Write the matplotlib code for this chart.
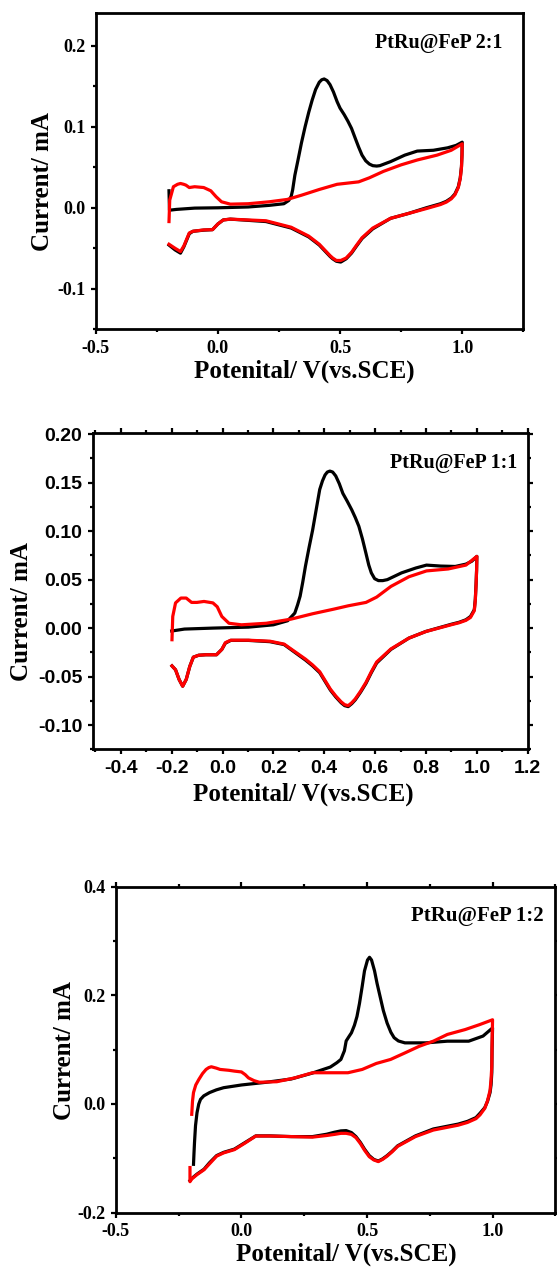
import matplotlib
matplotlib.use("Agg")
import matplotlib.pyplot as plt
from matplotlib.ticker import MultipleLocator, FormatStrFormatter

plt.rcParams['axes.unicode_minus'] = False
plt.rcParams['font.family'] = 'Liberation Serif'
plt.rcParams['font.weight'] = 'bold'

# ---- PtRu@FeP 2:1 ----
# anodic sweeps (-0.2 -> 1.0 V)
pot_21_k_fwd = [-0.2, -0.198, -0.17, -0.095, 0.0, 0.124, 0.21, 0.27, 0.29, 0.30, 0.306, 0.315, 0.328,
                0.342, 0.357, 0.372, 0.386, 0.40, 0.415, 0.425, 0.435, 0.447, 0.459, 0.473, 0.488, 0.50,
                0.517, 0.532, 0.547, 0.562, 0.576, 0.59, 0.605, 0.62, 0.634, 0.65, 0.663, 0.707, 0.765,
                0.816, 0.882, 0.94, 0.975, 1.0]
cur_21_k_fwd = [0.021, -0.003, -0.002, -0.0004, 0.0, 0.001, 0.003, 0.005, 0.009, 0.014, 0.022, 0.04,
                0.059, 0.08, 0.1, 0.118, 0.133, 0.146, 0.155, 0.158, 0.159, 0.157, 0.152, 0.143, 0.131,
                0.123, 0.115, 0.107, 0.098, 0.086, 0.075, 0.065, 0.058, 0.054, 0.052, 0.0515, 0.052,
                0.057, 0.065, 0.07, 0.071, 0.074, 0.077, 0.081]
pot_21_r_fwd = [-0.2, -0.197, -0.182, -0.165, -0.153, -0.14, -0.131, -0.117, -0.095, -0.058, -0.029,
                -0.007, 0.015, 0.051, 0.124, 0.21, 0.284, 0.343, 0.415, 0.488, 0.576, 0.62, 0.678, 0.75,
                0.816, 0.897, 0.955, 1.0]
cur_21_r_fwd = [-0.017, 0.0095, 0.026, 0.029, 0.03, 0.029, 0.028, 0.025, 0.026, 0.025, 0.021, 0.0136,
                0.0074, 0.0045, 0.005, 0.0074, 0.0103, 0.0156, 0.0226, 0.029, 0.032, 0.037, 0.045,
                0.053, 0.059, 0.065, 0.071, 0.079]
# cathodic sweeps (1.0 -> -0.2 V)
pot_21_rev = [0.999, 0.997, 0.992, 0.984, 0.97, 0.955, 0.935, 0.911, 0.853, 0.78, 0.707, 0.634, 0.59,
              0.568, 0.547, 0.525, 0.503, 0.485, 0.47, 0.459, 0.437, 0.415, 0.372, 0.3, 0.197, 0.051,
              0.022, 0.0, -0.022, -0.058, -0.102, -0.117, -0.139, -0.153, -0.175, -0.2]
cur_21_k_rev = [0.065, 0.051, 0.037, 0.026, 0.017, 0.012, 0.008, 0.005, 0.0, -0.007, -0.013, -0.026,
                -0.038, -0.047, -0.056, -0.063, -0.067, -0.066, -0.063, -0.06, -0.053, -0.046, -0.036,
                -0.025, -0.017, -0.014, -0.015, -0.02, -0.027, -0.0276, -0.029, -0.032, -0.048,
                -0.056, -0.052, -0.046]
cur_21_r_rev = [0.064, 0.05, 0.036, 0.025, 0.016, 0.011, 0.007, 0.004, -0.001, -0.007, -0.013, -0.025,
                -0.037, -0.046, -0.055, -0.062, -0.065, -0.065, -0.062, -0.059, -0.052, -0.045, -0.035,
                -0.024, -0.016, -0.014, -0.015, -0.02, -0.027, -0.0273, -0.029, -0.031, -0.047,
                -0.054, -0.05, -0.045]

# ---- PtRu@FeP 1:1 ----
pot_11_k_fwd = [-0.2, -0.15, -0.038, 0.102, 0.2, 0.256, 0.284, 0.295, 0.305, 0.315, 0.326, 0.34, 0.354,
                0.368, 0.382, 0.393, 0.403, 0.412, 0.422, 0.433, 0.445, 0.459, 0.473, 0.49, 0.508,
                0.522, 0.536, 0.55, 0.564, 0.575, 0.585, 0.598, 0.613, 0.63, 0.648, 0.704, 0.76, 0.802,
                0.858, 0.915, 0.957, 0.98, 1.0]
cur_11_k_fwd = [-0.003, -0.001, 0.0, 0.001, 0.0034, 0.0076, 0.0155, 0.024, 0.033, 0.047, 0.064, 0.083,
                0.101, 0.122, 0.143, 0.152, 0.158, 0.161, 0.162, 0.161, 0.157, 0.149, 0.139, 0.131,
                0.122, 0.114, 0.105, 0.092, 0.077, 0.065, 0.057, 0.051, 0.049, 0.049, 0.05, 0.057,
                0.062, 0.065, 0.064, 0.0636, 0.066, 0.069, 0.074]
pot_11_r_fwd = [-0.199, -0.196, -0.185, -0.164, -0.143, -0.122, -0.101, -0.073, -0.038, -0.021, -0.003,
                0.025, 0.074, 0.172, 0.27, 0.354, 0.438, 0.494, 0.564, 0.606, 0.662, 0.733, 0.802,
                0.887, 0.957, 1.0]
cur_11_r_fwd = [-0.012, 0.012, 0.026, 0.031, 0.031, 0.0265, 0.0265, 0.0275, 0.026, 0.022, 0.012, 0.005,
                0.0034, 0.005, 0.0093, 0.0148, 0.0196, 0.023, 0.0265, 0.032, 0.043, 0.053, 0.059,
                0.061, 0.065, 0.074]
pot_11_rev = [0.999, 0.997, 0.994, 0.99, 0.975, 0.957, 0.93, 0.9, 0.8, 0.733, 0.662, 0.606, 0.585, 0.564,
              0.543, 0.522, 0.508, 0.494, 0.48, 0.466, 0.445, 0.424, 0.403, 0.382, 0.354, 0.326, 0.242,
              0.186, 0.102, 0.032, 0.011, -0.003, -0.024, -0.066, -0.094, -0.115, -0.129, -0.143,
              -0.157, -0.171, -0.185, -0.199]
cur_11_k_rev = [0.06, 0.046, 0.03, 0.019, 0.012, 0.0086, 0.006, 0.004, -0.0034, -0.0103, -0.022, -0.036,
                -0.046, -0.057, -0.066, -0.074, -0.078, -0.081, -0.080, -0.077, -0.071, -0.064, -0.055,
                -0.046, -0.039, -0.033, -0.017, -0.014, -0.0127, -0.0127, -0.0155, -0.022, -0.0275,
                -0.0275, -0.028, -0.03, -0.0395, -0.053, -0.06, -0.053, -0.043, -0.039]
cur_11_r_rev = [0.059, 0.045, 0.029, 0.018, 0.011, 0.008, 0.0055, 0.0035, -0.0035, -0.0103, -0.0215,
                -0.035, -0.045, -0.056, -0.065, -0.073, -0.077, -0.080, -0.079, -0.076, -0.070, -0.063,
                -0.054, -0.045, -0.038, -0.032, -0.0165, -0.0135, -0.0125, -0.0125, -0.015, -0.022,
                -0.0275, -0.0275, -0.028, -0.03, -0.0395, -0.053, -0.06, -0.053, -0.043, -0.039]

# ---- PtRu@FeP 1:2 ----
pot_12_k_fwd = [-0.191, -0.189, -0.187, -0.183, -0.177, -0.17, -0.163, -0.15, -0.127, -0.1, -0.071, 0.0,
                0.099, 0.198, 0.283, 0.354, 0.38, 0.396, 0.41, 0.417, 0.428, 0.438, 0.45, 0.46, 0.47,
                0.481, 0.49, 0.502, 0.51, 0.518, 0.53, 0.54, 0.552, 0.565, 0.58, 0.595, 0.608, 0.625,
                0.651, 0.735, 0.82, 0.905, 0.962, 1.0]
cur_12_k_fwd = [-0.111, -0.09, -0.071, -0.04, -0.016, 0.0, 0.0086, 0.015, 0.021, 0.026, 0.030, 0.035,
                0.040, 0.046, 0.057, 0.068, 0.076, 0.082, 0.098, 0.116, 0.124, 0.131, 0.145, 0.161,
                0.185, 0.217, 0.245, 0.265, 0.27, 0.265, 0.245, 0.222, 0.198, 0.172, 0.149, 0.132,
                0.122, 0.116, 0.1125, 0.1125, 0.1156, 0.1156, 0.125, 0.14]
pot_12_r_fwd = [-0.198, -0.195, -0.191, -0.182, -0.17, -0.155, -0.141, -0.13, -0.12, -0.1, -0.085,
                -0.05, -0.028, 0.0, 0.015, 0.028, 0.05, 0.071, 0.141, 0.212, 0.283, 0.354, 0.424,
                0.481, 0.537, 0.594, 0.651, 0.707, 0.764, 0.82, 0.891, 0.948, 1.0]
cur_12_r_fwd = [-0.019, 0.005, 0.021, 0.035, 0.045, 0.056, 0.0636, 0.067, 0.0685, 0.066, 0.0636, 0.062,
                0.0605, 0.059, 0.054, 0.048, 0.043, 0.040, 0.041, 0.048, 0.0575, 0.0575, 0.0575,
                0.0636, 0.0746, 0.082, 0.094, 0.106, 0.1156, 0.128, 0.137, 0.146, 0.155]
pot_12_rev = [0.998, 0.997, 0.994, 0.99, 0.98, 0.969, 0.95, 0.934, 0.9, 0.863, 0.764, 0.693, 0.622, 0.6,
              0.58, 0.562, 0.545, 0.527, 0.509, 0.49, 0.474, 0.456, 0.438, 0.417, 0.396, 0.37, 0.339,
              0.283, 0.198, 0.113, 0.057, 0.014, -0.028, -0.071, -0.099, -0.127, -0.149, -0.177,
              -0.198, -0.205]
cur_12_k_rev = [0.1, 0.0575, 0.035, 0.021, 0.005, -0.0067, -0.017, -0.025, -0.032, -0.037, -0.046,
                -0.0587, -0.077, -0.087, -0.095, -0.101, -0.105, -0.102, -0.095, -0.083, -0.071, -0.06,
                -0.0526, -0.049, -0.0495, -0.052, -0.0557, -0.06, -0.06, -0.0587, -0.0587, -0.071,
                -0.083, -0.089, -0.095, -0.108, -0.12, -0.129, -0.137, -0.141]
cur_12_r_rev = [0.11, 0.07, 0.045, 0.025, 0.006, -0.008, -0.02, -0.027, -0.034, -0.039, -0.048, -0.06,
                -0.078, -0.088, -0.096, -0.102, -0.106, -0.103, -0.097, -0.085, -0.073, -0.062, -0.056,
                -0.054, -0.054, -0.056, -0.058, -0.061, -0.06, -0.059, -0.059, -0.072, -0.084, -0.09,
                -0.096, -0.11, -0.121, -0.13, -0.138, -0.143]
cur_12_r_end = -0.117

labels = ['PtRu@FeP 2:1', 'PtRu@FeP 1:1', 'PtRu@FeP 1:2']

fig = plt.figure(figsize=(5.57, 12.71), dpi=100)
fig.set_facecolor('white')

ax1 = fig.add_axes([0.1718, 0.7409, 0.7677, 0.2486])
ax2 = fig.add_axes([0.1668, 0.4105, 0.7806, 0.2486])
ax3 = fig.add_axes([0.2081, 0.0459, 0.7889, 0.2565])


def draw_cv(ax, pk, ck, pr, cr):
    ax.plot(pk, ck, color='black', lw=2.3, solid_joinstyle='round')
    ax.plot(pr, cr, color='#ff0000', lw=2.3, solid_joinstyle='round')


def style(ax, xlim, ylim, xmaj, xmin, ymaj, ymin, xfmt, yfmt, all_sides, tickfont, tsize):
    ax.set_xlim(*xlim)
    ax.set_ylim(*ylim)
    ax.xaxis.set_major_locator(MultipleLocator(xmaj))
    ax.xaxis.set_minor_locator(MultipleLocator(xmin))
    ax.yaxis.set_major_locator(MultipleLocator(ymaj))
    ax.yaxis.set_minor_locator(MultipleLocator(ymin))
    ax.xaxis.set_major_formatter(FormatStrFormatter(xfmt))
    ax.yaxis.set_major_formatter(FormatStrFormatter(yfmt))
    for s in ax.spines.values():
        s.set_linewidth(2.0)
    ax.tick_params(which='both', direction='out', width=1.6,
                   top=all_sides, right=all_sides)
    ax.tick_params(which='major', length=3.5, pad=4)
    ax.tick_params(which='minor', length=2.5)
    for lab in ax.get_xticklabels() + ax.get_yticklabels():
        lab.set_family(tickfont)
        lab.set_weight('bold')
        lab.set_fontsize(tsize)
    ax.set_xlabel('Potenital/ V(vs.SCE)', fontsize=18, fontweight='bold', va='center')
    ax.set_ylabel('Current/ mA', fontsize=18, fontweight='bold', va='center')


draw_cv(ax1, pot_21_k_fwd + pot_21_rev, cur_21_k_fwd + cur_21_k_rev,
        pot_21_r_fwd + pot_21_rev, cur_21_r_fwd + cur_21_r_rev)
style(ax1, (-0.5, 1.25), (-0.15, 0.24), 0.5, 0.25, 0.1, 0.05, '%.1f', '%.1f', False,
      'Liberation Serif', 13)
ax1.xaxis.set_label_coords(0.489, -0.134)
ax1.yaxis.set_label_coords(-0.124, 0.467)
ax1.text(0.95, 0.907, labels[0], transform=ax1.transAxes, ha='right', va='center',
         fontsize=14.5, fontweight='bold')

draw_cv(ax2, pot_11_k_fwd + pot_11_rev, cur_11_k_fwd + cur_11_k_rev,
        pot_11_r_fwd + pot_11_rev, cur_11_r_fwd + cur_11_r_rev)
style(ax2, (-0.51, 1.2), (-0.125, 0.201), 0.2, 0.1, 0.05, 0.025, '%.1f', '%.2f', True,
      'Liberation Sans', 14)
ax2.xaxis.set_label_coords(0.484, -0.141)
ax2.yaxis.set_label_coords(-0.165, 0.436)
ax2.text(0.975, 0.906, labels[1], transform=ax2.transAxes, ha='right', va='center',
         fontsize=14.5, fontweight='bold')

draw_cv(ax3, pot_12_k_fwd + pot_12_rev, cur_12_k_fwd + cur_12_k_rev,
        pot_12_r_fwd + pot_12_rev + [pot_12_rev[-1]],
        cur_12_r_fwd + cur_12_r_rev + [cur_12_r_end])
style(ax3, (-0.5, 1.25), (-0.2, 0.4), 0.5, 0.25, 0.2, 0.1, '%.1f', '%.1f', True,
      'Liberation Serif', 13)
ax3.xaxis.set_label_coords(0.525, -0.127)
ax3.yaxis.set_label_coords(-0.118, 0.497)
ax3.text(0.974, 0.91, labels[2], transform=ax3.transAxes, ha='right', va='center',
         fontsize=15, fontweight='bold')

fig.savefig('out.png', dpi=100, facecolor='white')
